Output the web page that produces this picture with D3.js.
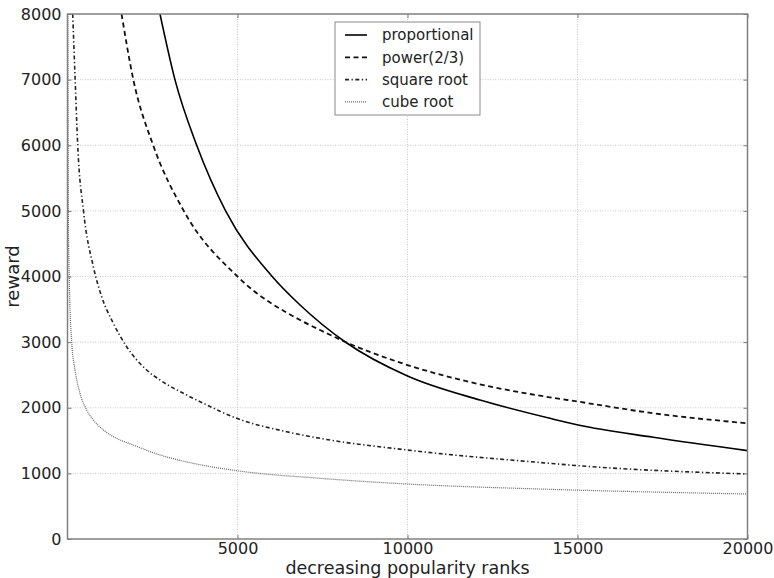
<!DOCTYPE html>
<html>
<head>
<meta charset="utf-8">
<script src="https://cdn.jsdelivr.net/npm/d3@7/dist/d3.min.js"></script>
<style>
  html, body { margin: 0; padding: 0; background: #fff; }
  svg { display: block; font-family: "DejaVu Sans", sans-serif; }
</style>
</head>
<body>
<svg id="chart" width="774" height="578"></svg>
<script>
// Axis ticks
const rankTicks = [5000, 10000, 15000, 20000];
const rankGrid = [5000, 10000, 15000];
const rewardTicks = [0, 1000, 2000, 3000, 4000, 5000, 6000, 7000, 8000];

// Reward per popularity rank, one array of [rank, reward] per scheme
const proportional = [[2720, 8000], [3160, 7000], [3800, 6000], [4650, 5000], [6020, 4000],
  [6840, 3566], [8160, 3006], [10000, 2484], [12130, 2118], [14190, 1839], [15020, 1737],
  [17230, 1550], [20000, 1346]];
const power23 = [[1590, 8000], [1936, 7000], [2520, 6000], [3420, 5000], [5000, 4000],
  [6936, 3311], [7426, 3185], [8160, 3006], [10000, 2651], [12130, 2357], [14190, 2159],
  [15020, 2093], [17230, 1916], [20000, 1763]];
const squareRoot = [[153, 8000], [225, 7000], [300, 6000], [470, 5000], [760, 4150],
  [1005, 3692], [1348, 3287], [1740, 2930], [2328, 2575], [2721, 2423], [3505, 2194],
  [3995, 2068], [4975, 1839], [6446, 1635], [7426, 1534], [9994, 1356], [14191, 1153],
  [15024, 1117], [20000, 990]];
const cubeRoot = [[8, 8000], [15, 6500], [25, 5000], [50, 4000], [123, 3007], [221, 2575],
  [368, 2220], [565, 1966], [760, 1813], [1054, 1661], [1446, 1534], [1936, 1432],
  [2721, 1280], [3700, 1153], [4976, 1041], [7426, 925], [9994, 838], [14191, 757],
  [20000, 686]];

const seriesNames = ["proportional", "power(2/3)", "square root", "cube root"];
const seriesData = [proportional, power23, squareRoot, cubeRoot];

const styles = [
  { stroke: "#000", width: 1.6, dash: null },
  { stroke: "#111", width: 1.8, dash: "5,3.5" },
  { stroke: "#222", width: 1.6, dash: "4,2.5,1.3,2.5" },
  { stroke: "#666", width: 1.2, dash: "1,1" }
];

const svg = d3.select("#chart");
const plotLeft = 67.5, plotRight = 747.5, plotTop = 14, plotBottom = 539;

const x = d3.scaleLinear().domain([0, 20000]).range([plotLeft, plotRight]);
const y = d3.scaleLinear().domain([0, 8000]).range([plotBottom, plotTop]);

// grid
const grid = svg.append("g");
grid.selectAll("line.gx").data(rankGrid).join("line")
  .attr("x1", d => x(d)).attr("x2", d => x(d))
  .attr("y1", plotTop).attr("y2", plotBottom)
  .attr("stroke", "#c8c8c8").attr("stroke-width", 1).attr("stroke-dasharray", "1,1.5");
grid.selectAll("line.gy").data(rewardTicks.slice(1, -1)).join("line")
  .attr("x1", plotLeft).attr("x2", plotRight)
  .attr("y1", d => y(d)).attr("y2", d => y(d))
  .attr("stroke", "#c8c8c8").attr("stroke-width", 1).attr("stroke-dasharray", "1,1.5");

// curves
svg.append("clipPath").attr("id", "plot-clip")
  .append("rect").attr("x", plotLeft).attr("y", plotTop)
  .attr("width", plotRight - plotLeft).attr("height", plotBottom - plotTop);

const line = d3.line()
  .x(d => x(d[0])).y(d => y(d[1]))
  .curve(d3.curveMonotoneX);

const curves = svg.append("g").attr("clip-path", "url(#plot-clip)");
seriesData.forEach((data, i) => {
  curves.append("path")
    .datum(data)
    .attr("d", line)
    .attr("fill", "none")
    .attr("stroke", styles[i].stroke)
    .attr("stroke-width", styles[i].width)
    .attr("stroke-dasharray", styles[i].dash);
});

// axes with inward ticks
const tickColor = "#777";
const fmt = d3.format("d");
const xAxisB = d3.axisBottom(x).tickValues(rankTicks).tickFormat(fmt).tickSizeInner(-4).tickSizeOuter(0).tickPadding(4);
const xAxisT = d3.axisTop(x).tickValues(rankTicks).tickSizeInner(-4).tickSizeOuter(0).tickFormat("");
const yAxisL = d3.axisLeft(y).tickValues(rewardTicks).tickFormat(fmt).tickSizeInner(-4).tickSizeOuter(0).tickPadding(6);
const yAxisR = d3.axisRight(y).tickValues(rewardTicks).tickSizeInner(-4).tickSizeOuter(0).tickFormat("");

function styleAxis(g) {
  g.select(".domain").remove();
  g.selectAll(".tick line").attr("stroke", tickColor).attr("stroke-width", 1);
  g.selectAll(".tick text").attr("fill", "#222").attr("font-size", 16)
    .attr("font-family", "DejaVu Sans, sans-serif");
}

svg.append("g").attr("transform", `translate(0,${plotBottom})`).call(xAxisB).call(styleAxis);
svg.append("g").attr("transform", `translate(0,${plotTop})`).call(xAxisT).call(styleAxis);
svg.append("g").attr("transform", `translate(${plotLeft},0)`).call(yAxisL).call(styleAxis);
svg.append("g").attr("transform", `translate(${plotRight},0)`).call(yAxisR).call(styleAxis);

// frame
svg.append("rect")
  .attr("x", plotLeft).attr("y", plotTop)
  .attr("width", plotRight - plotLeft).attr("height", plotBottom - plotTop)
  .attr("fill", "none").attr("stroke", "#808080").attr("stroke-width", 1.5);

// axis titles
svg.append("text")
  .attr("x", (plotLeft + plotRight) / 2).attr("y", 574)
  .attr("text-anchor", "middle").attr("font-size", 17.5).attr("fill", "#222")
  .text("decreasing popularity ranks");
svg.append("text")
  .attr("transform", `translate(18.5,${(plotTop + plotBottom) / 2}) rotate(-90)`)
  .attr("text-anchor", "middle").attr("font-size", 18).attr("fill", "#222")
  .text("reward");

// legend
const legend = svg.append("g");
legend.append("rect")
  .attr("x", 335).attr("y", 22).attr("width", 145).attr("height", 93)
  .attr("fill", "#fff").attr("stroke", "#8a8a8a").attr("stroke-width", 1);
seriesNames.forEach((name, i) => {
  const ly = 35 + i * 22.3;
  legend.append("line")
    .attr("x1", 345).attr("x2", 367).attr("y1", ly).attr("y2", ly)
    .attr("stroke", styles[i].stroke)
    .attr("stroke-width", styles[i].width)
    .attr("stroke-dasharray", styles[i].dash);
  legend.append("text")
    .attr("x", 382).attr("y", ly).attr("dy", "0.35em")
    .attr("font-size", 15).attr("fill", "#222")
    .text(name);
});
</script>
</body>
</html>
